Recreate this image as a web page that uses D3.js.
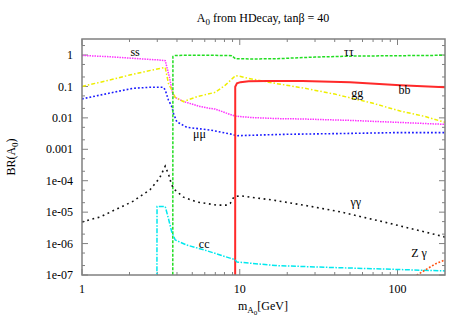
<!DOCTYPE html>
<html>
<head>
<meta charset="utf-8">
<script src="https://cdn.jsdelivr.net/npm/d3@7"></script>
<style>
  body { margin: 0; background: #fff; }
  svg text { font-family: "Liberation Serif", "DejaVu Serif", serif; fill: #000; }
</style>
</head>
<body>
<div id="chart"></div>
<script>
// branching ratios of A0, [mass GeV, BR]
var ss = [[1, 0.97], [1.5, 0.88], [2, 0.8], [2.5, 0.74], [3, 0.7], [3.37, 0.66],
  [3.58, 0.2], [3.75, 0.06], [3.85, 0.046], [4.4, 0.033], [5.6, 0.023], [6.5, 0.02],
  [7, 0.019], [8.9, 0.0123], [9.4, 0.0113], [12, 0.0102], [17, 0.0095], [25, 0.0092],
  [50, 0.0083], [100, 0.0072], [200, 0.0062]]
var gg = [[1, 0.1], [1.5, 0.16], [2, 0.23], [2.5, 0.295], [3, 0.36], [3.37, 0.4],
  [3.53, 0.125], [3.71, 0.077], [3.9, 0.045], [4.4, 0.033], [5.35, 0.047], [7, 0.065],
  [8.1, 0.11], [9, 0.18], [9.4, 0.22], [10, 0.21], [11.4, 0.18], [16.8, 0.125],
  [25, 0.09], [40, 0.057], [70, 0.029], [104, 0.0165], [150, 0.011], [200, 0.0072]]
var mumu = [[1, 0.04], [1.3, 0.053], [2.1, 0.087], [2.7, 0.094], [3.28, 0.094],
  [3.37, 0.077], [3.53, 0.037], [3.71, 0.0226], [3.8, 0.014], [3.99, 0.0075],
  [4.62, 0.005], [6.5, 0.0041], [8.92, 0.003], [9.5, 0.0027], [12, 0.0028],
  [20, 0.003], [50, 0.0032], [100, 0.0034], [200, 0.0034]]
var tautau = [[3.76, 1e-9], [3.77, 0.9], [3.9, 0.97], [5, 0.98], [8.5, 0.97], [8.9, 0.95],
  [9.4, 0.76], [12, 0.75], [17, 0.76], [30, 0.86], [50, 0.92], [100, 0.95], [200, 0.98]]
var bb = [[9.35, 1e-9], [9.36, 0.098], [9.6, 0.125], [10.1, 0.137], [11.4, 0.147],
  [15, 0.15], [25, 0.148], [50, 0.135], [104, 0.11], [200, 0.094]]
var gamgam = [[1, 4.9e-6], [1.3, 7e-6], [2.1, 2.2e-5], [2.7, 5.2e-5], [3.1, 1.2e-4],
  [3.37, 2.9e-4], [3.55, 1.5e-4], [3.7, 7.3e-5], [3.9, 5e-5], [4.4, 3e-5],
  [5.35, 2.1e-5], [7.2, 1.67e-5], [8.3, 1.67e-5], [8.7, 1.9e-5], [9.2, 3.1e-5],
  [10.1, 3.3e-5], [16.4, 2.4e-5], [26.7, 1.6e-5], [43.4, 1.02e-5], [86, 4.6e-6],
  [193, 1.7e-6], [200, 1.6e-6]]
var cc = [[2.98, 1e-9], [2.99, 1.5e-5], [3.37, 1.5e-5], [3.53, 6.3e-6], [3.71, 2.3e-6],
  [3.9, 1.3e-6], [4.6, 9e-7], [6, 6.2e-7], [8.9, 3.3e-7], [9.3, 3.1e-7], [9.6, 2.6e-7],
  [16.8, 2e-7], [37.6, 1.74e-7], [100, 1.5e-7], [200, 1.35e-7]]
var zgam = [[128, 8e-8], [133, 1e-7], [155, 1.6e-7], [175, 2.3e-7], [200, 3e-7]]

var xMajor = [1, 10, 100]
var xMinor = [2, 3, 4, 5, 6, 7, 8, 9, 20, 30, 40, 50, 60, 70, 80, 90]
var yMajor = [1e-7, 1e-6, 1e-5, 1e-4, 0.001, 0.01, 0.1, 1]
var yTickText = ["1e-07", "1e-06", "1e-05", "1e-04", "0.001", "0.01", "0.1", "1"]
var yMinor = [2e-7, 5e-7, 2e-6, 5e-6, 2e-5, 5e-5, 2e-4, 5e-4, 0.002, 0.005, 0.02, 0.05, 0.2, 0.5, 2]

var series = [
  { data: ss, color: "#ff33ff", width: 1.5, dash: "1.5,1" },
  { data: gg, color: "#eeee00", width: 1.5, dash: "4,2,1.5,2" },
  { data: mumu, color: "#1a1aff", width: 1.6, dash: "1.8,2" },
  { data: tautau, color: "#22dd22", width: 1.5, dash: "3,1.5" },
  { data: bb, color: "#ff2a2a", width: 2, dash: null },
  { data: gamgam, color: "#111", width: 1.6, dash: "1.8,3.6" },
  { data: cc, color: "#00e8ee", width: 1.5, dash: "5,1.5,1.5,1.5" },
  { data: zgam, color: "#ff5010", width: 1.6, dash: "1.8,1.8" }
]

var labels = [
  { m: 2.17, br: 0.9, t: "ss" },
  { m: 49.2, br: 0.93, t: "ττ" },
  { m: 55.5, br: 0.0476, t: "gg" },
  { m: 110.7, br: 0.0574, t: "bb" },
  { m: 5.56, br: 0.00236, t: "μμ" },
  { m: 54.4, br: 1.56e-5, t: "γγ" },
  { m: 5.95, br: 7.3e-7, t: "cc" },
  { m: 137, br: 3.66e-7, t: "Z γ" }
]

var width = 467, height = 327
var pLeft = 82, pRight = 445, pTop = 39, pBottom = 275

var x = d3.scaleLog().domain([1, 200]).range([pLeft, pRight])
var y = d3.scaleLog().domain([1e-7, 3.23]).range([pBottom, pTop])

var svg = d3.select("#chart").append("svg")
  .attr("width", width)
  .attr("height", height)

svg.append("defs").append("clipPath").attr("id", "plotclip")
  .append("rect")
  .attr("x", pLeft).attr("y", pTop)
  .attr("width", pRight - pLeft).attr("height", pBottom - pTop)

var border = "#808080"

// ticks, mirrored on all four sides, pointing inwards
var tk = svg.append("g").attr("stroke", border).attr("stroke-width", 1)
function xTicks(vals, len) {
  vals.forEach(function(v) {
    tk.append("line").attr("x1", x(v)).attr("x2", x(v)).attr("y1", pBottom).attr("y2", pBottom - len)
    tk.append("line").attr("x1", x(v)).attr("x2", x(v)).attr("y1", pTop).attr("y2", pTop + len)
  })
}
function yTicks(vals, len) {
  vals.forEach(function(v) {
    tk.append("line").attr("y1", y(v)).attr("y2", y(v)).attr("x1", pLeft).attr("x2", pLeft + len)
    tk.append("line").attr("y1", y(v)).attr("y2", y(v)).attr("x1", pRight).attr("x2", pRight - len)
  })
}
xTicks(xMajor, 6)
xTicks(xMinor, 3)
yTicks(yMajor, 6)
yTicks(yMinor, 3)

svg.selectAll(".xlab")
  .data(xMajor)
  .enter()
  .append("text")
  .attr("class", "xlab")
  .attr("x", function(d) { return x(d) })
  .attr("y", 293)
  .attr("text-anchor", "middle")
  .attr("font-size", 12)
  .text(function(d) { return d })

svg.selectAll(".ylab")
  .data(yMajor)
  .enter()
  .append("text")
  .attr("class", "ylab")
  .attr("x", 73)
  .attr("y", function(d) { return y(d) })
  .attr("dy", "0.35em")
  .attr("text-anchor", "end")
  .attr("font-size", 12)
  .text(function(d, i) { return yTickText[i] })

var line = d3.line()
  .x(function(d) { return x(d[0]) })
  .y(function(d) { return y(Math.max(d[1], 1e-9)) })

var plot = svg.append("g").attr("clip-path", "url(#plotclip)")
series.forEach(function(s) {
  plot.append("path")
    .attr("d", line(s.data))
    .attr("fill", "none")
    .attr("stroke", s.color)
    .attr("stroke-width", s.width)
    .attr("stroke-dasharray", s.dash)
})

svg.append("rect")
  .attr("x", pLeft).attr("y", pTop)
  .attr("width", pRight - pLeft).attr("height", pBottom - pTop)
  .attr("fill", "none")
  .attr("stroke", border)
  .attr("stroke-width", 1.5)

svg.selectAll(".clab")
  .data(labels)
  .enter()
  .append("text")
  .attr("class", "clab")
  .attr("x", function(d) { return x(d.m) })
  .attr("y", function(d) { return y(d.br) })
  .attr("text-anchor", "middle")
  .attr("font-size", 12)
  .text(function(d) { return d.t })

// title
var title = svg.append("text").attr("x", 263).attr("y", 22).attr("text-anchor", "middle").attr("font-size", 12)
title.append("tspan").text("A")
title.append("tspan").attr("font-size", 9).attr("dy", 3).text("0")
title.append("tspan").attr("dy", -3).text(" from HDecay, tanβ = 40")

// y axis label
var yl = svg.append("text").attr("transform", "translate(15,157) rotate(-90)")
  .attr("text-anchor", "middle").attr("font-size", 12)
yl.append("tspan").text("BR(A")
yl.append("tspan").attr("font-size", 9).attr("dy", 3).text("0")
yl.append("tspan").attr("dy", -3).text(")")

// x axis label
var xl = svg.append("text").attr("x", 238).attr("y", 310).attr("font-size", 12)
xl.append("tspan").text("m")
xl.append("tspan").attr("font-size", 9).attr("dy", 3).text("A")
xl.append("tspan").attr("font-size", 7).attr("dy", 2).text("0")
xl.append("tspan").attr("dy", -5).text("[GeV]")
</script>
</body>
</html>
